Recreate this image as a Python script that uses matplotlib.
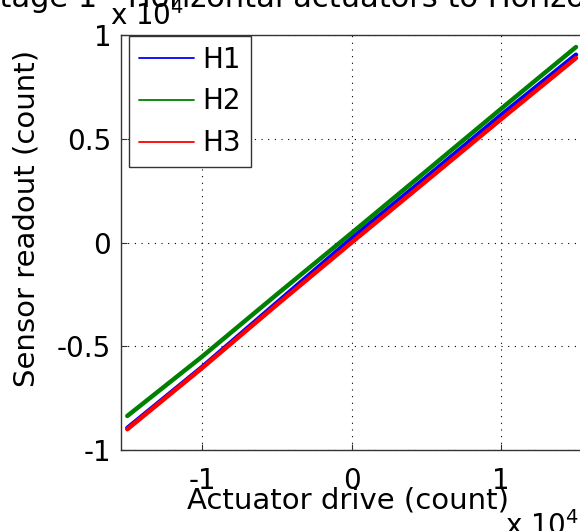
import numpy as np
import matplotlib
matplotlib.use('Agg')
import matplotlib.pyplot as plt

plt.rcParams['font.family'] = ['DejaVu Sans']

# Data (units of counts)
drive = np.array([-1.5, -1.0, -0.5, 0.0, 0.5, 1.0, 1.5]) * 1e4
h1 = np.array([-0.894, -0.600, -0.290, 0.020, 0.315, 0.615, 0.905]) * 1e4
h2 = np.array([-0.836, -0.550, -0.250, 0.046, 0.345, 0.645, 0.942]) * 1e4
h3 = np.array([-0.900, -0.605, -0.300, 0.000, 0.297, 0.595, 0.889]) * 1e4

series = [('H1', h1, (0, 0, 1)), ('H2', h2, (0, 0.5, 0)), ('H3', h3, (1, 0, 0))]

xticks = [-1e4, 0, 1e4]
xticklabels = ['-1', '0', '1']
yticks = [-1e4, -0.5e4, 0, 0.5e4, 1e4]
yticklabels = ['-1', '-0.5', '0', '0.5', '1']

fs = 20       # ticks / legend
fs_lab = 21   # axis labels
fs_title = 22

fig = plt.figure(figsize=(5.8, 5.31), dpi=100)
ax = fig.add_axes([121 / 580, 81 / 531, 0.8, 415 / 531])

for name, y, c in series:
    ax.plot(drive, y, color=c, linewidth=3.2, label=name, solid_capstyle='round')

ax.set_xlim(-1.542e4, 1.56e4)
ax.set_ylim(-1e4, 1e4)
ax.set_xticks(xticks)
ax.set_xticklabels(xticklabels)
ax.set_yticks(yticks)
ax.set_yticklabels(yticklabels)
ax.tick_params(direction='in', length=4, width=0.8, labelsize=fs, color='#333333')
ax.tick_params(axis='x', pad=12)
ax.tick_params(axis='y', pad=7)
ax.grid(True, color='black', linestyle=(0, (1, 5)), linewidth=0.8)
for s in ax.spines.values():
    s.set_color('#333333')
    s.set_linewidth(1.0)

ax.set_xlabel('Actuator drive (count)', fontsize=fs_lab)
ax.xaxis.set_label_coords(348 / 580, 23 / 531, transform=fig.transFigure)
ax.xaxis.label.set_va('baseline')
fig.text(27 / 580, (531 - 218) / 531, 'Sensor readout (count)', fontsize=fs_lab,
         rotation=90, ha='center', va='center')

# exponent labels (MATLAB style)
fig.text(110 / 580, 506 / 531, r'x 10$^{4}$', fontsize=fs, va='baseline', ha='left')
fig.text(505 / 580, -4 / 531, r'x 10$^{4}$', fontsize=fs, va='baseline', ha='left')

# title, cropped by the figure edge
fig.text(-20 / 580, 524 / 531, 'Stage 1 - Horizontal actuators to Horizontal sensors',
         fontsize=fs_title, va='baseline', ha='left')

leg = ax.legend(loc='upper left', bbox_to_anchor=(0.017, 0.998), borderaxespad=0,
                fontsize=fs, fancybox=False, framealpha=1, edgecolor='#333333',
                borderpad=0.35, labelspacing=0.5, handlelength=2.0, handletextpad=0.3)
leg.get_frame().set_linewidth(1.0)
for line in leg.get_lines():
    line.set_linewidth(1.3)

fig.savefig('out.png', dpi=100)
